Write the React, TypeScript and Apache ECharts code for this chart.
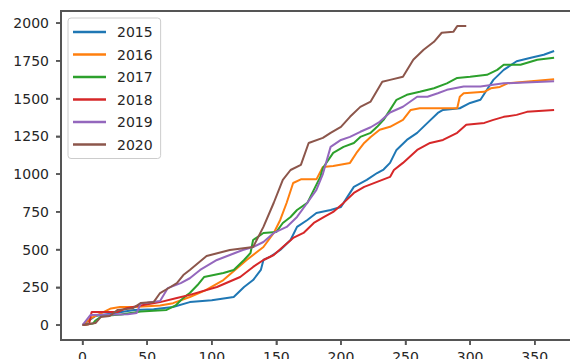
import React, { useEffect, useRef } from "react";
import * as echarts from "echarts";

const seriesNames = ["2015", "2016", "2017", "2018", "2019", "2020"];
const colors = ["#1f77b4", "#ff7f0e", "#2ca02c", "#d62728", "#9467bd", "#8c564b"];

const xTicks = [0, 50, 100, 150, 200, 250, 300, 350];
const yTicks = [0, 250, 500, 750, 1000, 1250, 1500, 1750, 2000];

const s2015: [number, number][] = [
  [0, 0], [5, 30], [10, 60], [25, 80], [40, 100], [55, 105], [70, 120], [83, 152], [100, 165], [117, 186],
  [125, 252], [132, 298], [138, 365], [140, 431], [145, 451], [153, 497], [161, 563], [166, 650], [174, 696],
  [181, 742], [192, 762], [200, 782], [205, 849], [210, 915], [220, 961], [228, 1007], [233, 1030], [238, 1074],
  [243, 1160], [251, 1226], [259, 1273], [267, 1339], [275, 1405], [279, 1425], [292, 1436], [300, 1471],
  [308, 1492], [313, 1558], [318, 1624], [326, 1690], [336, 1747], [347, 1770], [357, 1790], [365, 1815],
];

const s2016: [number, number][] = [
  [0, 0], [8, 53], [15, 80], [22, 110], [29, 120], [40, 120], [50, 125], [60, 130], [70, 145], [83, 186],
  [95, 230], [109, 298], [127, 431], [140, 517], [148, 610], [153, 696], [158, 810], [163, 941], [169, 965],
  [181, 965], [186, 1047], [194, 1054], [207, 1074], [212, 1140], [218, 1206], [223, 1246], [230, 1293],
  [238, 1313], [248, 1359], [254, 1425], [261, 1436], [290, 1436], [292, 1512], [295, 1535], [311, 1545],
  [316, 1568], [323, 1577], [329, 1601], [365, 1628],
];

const s2017: [number, number][] = [
  [0, 0], [8, 10], [10, 30], [15, 60], [30, 70], [45, 90], [55, 95], [65, 100], [72, 130], [78, 180],
  [83, 212], [89, 265], [94, 318], [109, 345], [117, 365], [125, 431], [130, 477], [132, 563], [140, 610],
  [150, 617], [155, 676], [161, 716], [166, 762], [174, 809], [179, 895], [184, 981], [186, 1040], [194, 1140],
  [202, 1180], [210, 1206], [215, 1246], [223, 1273], [228, 1313], [233, 1359], [238, 1425], [243, 1492],
  [251, 1525], [261, 1545], [272, 1568], [282, 1601], [290, 1637], [300, 1644], [313, 1657], [321, 1690],
  [326, 1724], [339, 1724], [352, 1757], [365, 1770],
];

const s2018: [number, number][] = [
  [0, 0], [5, 5], [7, 86], [27, 86], [34, 112], [47, 133], [60, 152], [73, 179], [83, 200], [104, 252],
  [122, 318], [132, 385], [140, 431], [148, 464], [155, 517], [163, 577], [171, 610], [179, 676], [187, 716],
  [194, 749], [202, 809], [210, 875], [218, 915], [228, 948], [238, 981], [241, 1027], [248, 1074],
  [259, 1160], [269, 1206], [279, 1226], [290, 1273], [297, 1326], [311, 1339], [318, 1359], [326, 1379],
  [336, 1392], [344, 1412], [365, 1425],
];

const s2019: [number, number][] = [
  [0, 0], [6, 66], [35, 72], [42, 80], [45, 145], [50, 148], [60, 160], [66, 245], [76, 278], [83, 310],
  [91, 365], [104, 431], [114, 464], [124, 497], [132, 517], [140, 550], [148, 610], [158, 650], [166, 716],
  [174, 810], [181, 895], [186, 1000], [192, 1180], [200, 1226], [207, 1246], [215, 1280], [223, 1310],
  [230, 1346], [238, 1408], [248, 1446], [259, 1512], [267, 1512], [275, 1535], [282, 1558], [295, 1580],
  [308, 1580], [326, 1601], [365, 1615],
];

const s2020: [number, number][] = [
  [0, 0], [10, 13], [14, 53], [21, 60], [27, 99], [39, 112], [45, 146], [55, 152], [60, 212], [68, 252],
  [73, 278], [78, 331], [83, 365], [96, 457], [114, 497], [132, 517], [140, 650], [148, 810], [155, 961],
  [161, 1027], [169, 1061], [175, 1206], [186, 1240], [192, 1273], [200, 1313], [207, 1379], [215, 1445],
  [223, 1480], [232, 1611], [238, 1624], [248, 1644], [256, 1757], [264, 1823], [272, 1876], [278, 1936],
  [287, 1942], [290, 1980], [297, 1980],
];

const allData = [s2015, s2016, s2017, s2018, s2019, s2020];

const FONT = "DejaVu Sans";
const AXIS_COLOR = "#555555";
const LABEL_COLOR = "#262626";

export default function App() {
  const ref = useRef<HTMLDivElement>(null);

  useEffect(() => {
    if (!ref.current) return;
    const chart = echarts.init(ref.current, undefined, { renderer: "svg" });

    const frameSeries = {
      type: "custom",
      name: "__frame",
      silent: true,
      z: 20,
      clip: false,
      data: [[0, 0]],
      renderItem: (params: any, api: any) => {
        const cs = params.coordSys;
        const l = cs.x;
        const t = cs.y;
        const r = cs.x + cs.width;
        const b = cs.y + cs.height;
        const children: any[] = [
          {
            type: "polyline",
            shape: { points: [[r, t], [l, t], [l, b], [r, b]] },
            style: { fill: "none", stroke: AXIS_COLOR, lineWidth: 2 },
          },
        ];
        xTicks.forEach((v) => {
          const p = api.coord([v, 0]);
          children.push({
            type: "polyline",
            shape: { points: [[p[0], b], [p[0], b + 5]] },
            style: { fill: "none", stroke: AXIS_COLOR, lineWidth: 1.5 },
          });
        });
        yTicks.forEach((v) => {
          const p = api.coord([0, v]);
          children.push({
            type: "polyline",
            shape: { points: [[l - 5, p[1]], [l, p[1]]] },
            style: { fill: "none", stroke: AXIS_COLOR, lineWidth: 1.5 },
          });
        });
        return { type: "group", children };
      },
    };

    chart.setOption({
      animation: false,
      backgroundColor: "#ffffff",
      textStyle: { fontFamily: FONT },
      grid: {
        left: 61,
        right: -8,
        top: 11,
        bottom: 19,
        containLabel: false,
        outerBoundsMode: "none",
      },
      legend: {
        orient: "vertical",
        left: 68,
        top: 18,
        padding: [6, 8, 6, 5],
        itemGap: 6.5,
        itemWidth: 33,
        itemHeight: 2.5,
        icon: "rect",
        backgroundColor: "rgba(255,255,255,0.8)",
        borderColor: "#cccccc",
        borderWidth: 1,
        borderRadius: 3,
        data: seriesNames,
        z: 30,
        textStyle: {
          fontFamily: FONT,
          fontSize: 14,
          color: LABEL_COLOR,
          lineHeight: 16,
          padding: [0, 0, 0, 6],
        },
      },
      xAxis: {
        type: "value",
        min: -16.7,
        max: 383.5,
        position: "bottom",
        splitLine: { show: false },
        axisLine: { show: true, onZero: false, lineStyle: { color: AXIS_COLOR, width: 2 } },
        axisTick: {
          show: true,
          length: 5,
          customValues: xTicks,
          lineStyle: { color: AXIS_COLOR, width: 1.5 },
        },
        axisLabel: {
          customValues: xTicks,
          margin: 10,
          fontFamily: FONT,
          fontSize: 14,
          color: LABEL_COLOR,
          formatter: (v: number) => String(v),
        },
      },
      yAxis: {
        type: "value",
        min: -99,
        max: 2080,
        splitLine: { show: false },
        axisLine: { show: true, onZero: false, lineStyle: { color: AXIS_COLOR, width: 2 } },
        axisTick: {
          show: true,
          length: 5,
          customValues: yTicks,
          lineStyle: { color: AXIS_COLOR, width: 1.5 },
        },
        axisLabel: {
          customValues: yTicks,
          margin: 12,
          fontFamily: FONT,
          fontSize: 14,
          color: LABEL_COLOR,
          formatter: (v: number) => String(v),
        },
      },
      series: [
        ...seriesNames.map((name, i) => ({
          name,
          type: "line",
          data: allData[i],
          symbol: "none",
          showSymbol: false,
          color: colors[i],
          itemStyle: { color: colors[i] },
          lineStyle: { color: colors[i], width: 2 },
          z: 2 + i,
        })),
        frameSeries,
      ],
    });
    return () => chart.dispose();
  }, []);

  return (
    <div
      ref={ref}
      style={{ position: "fixed", left: 0, top: 0, width: 570, height: 359, background: "#fff" }}
    />
  );
}
